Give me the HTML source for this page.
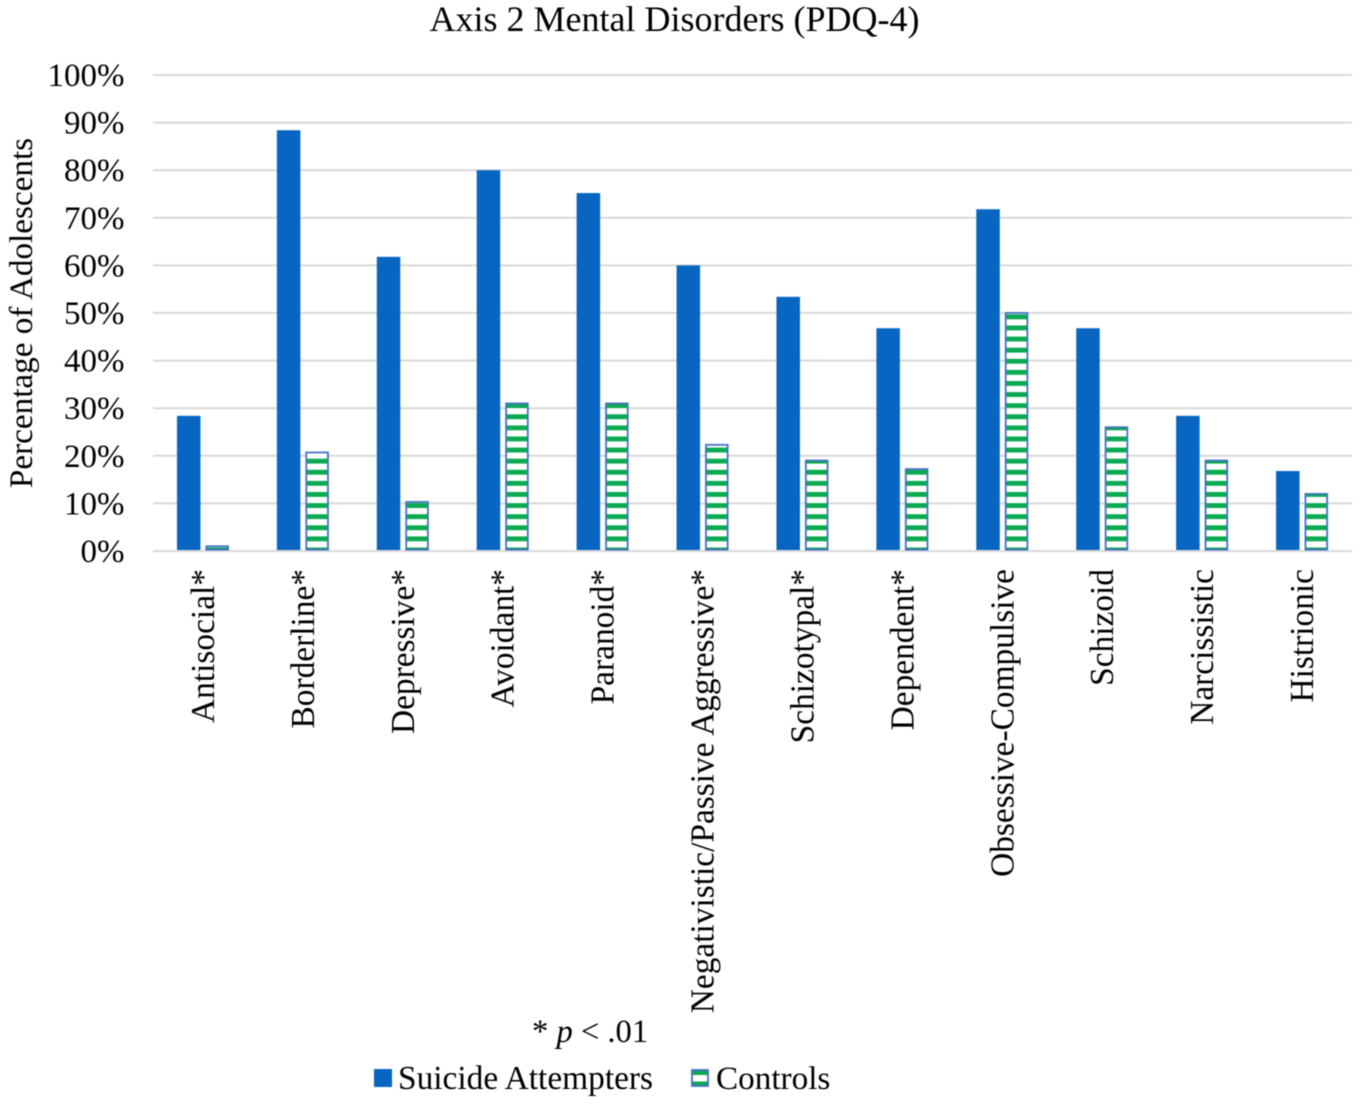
<!DOCTYPE html>
<html lang="en">
<head>
<meta charset="utf-8">
<title>Axis 2 Mental Disorders (PDQ-4)</title>
<style>
html,body{margin:0;padding:0;background:#fff;width:1360px;height:1104px;overflow:hidden}
#chart{display:block;filter:blur(0.4px)}
text{font-family:"Liberation Serif",serif;fill:#000}
</style>
</head>
<body>
<svg id="chart" xmlns="http://www.w3.org/2000/svg" width="1360" height="1104" viewBox="0 0 1360 1104">
  <defs>
    <pattern id="stripe" patternUnits="userSpaceOnUse" width="10" height="11.1" patternTransform="translate(0,3.6)">
      <rect x="0" y="0" width="10" height="11.1" fill="#ffffff"/>
      <rect x="0" y="0" width="10" height="4.9" fill="#0aaa50"/>
    </pattern>
    <pattern id="stripe-legend" patternUnits="userSpaceOnUse" width="10" height="11" patternTransform="translate(0,1070.5)">
      <rect x="0" y="0" width="10" height="11" fill="#ffffff"/>
      <rect x="0" y="0" width="10" height="4.5" fill="#0aaa50"/>
    </pattern>
  </defs>
  <text x="674.5" y="31" text-anchor="middle" font-size="36">Axis 2 Mental Disorders (PDQ-4)</text>
  <text transform="translate(32,313) rotate(-90)" text-anchor="middle" font-size="33.2">Percentage of Adolescents</text>
  <g id="grid"></g>
  <g id="yticks"></g>
  <g id="bars"></g>
  <g id="xticks"></g>
  <text x="532" y="1042" font-size="32.6">* <tspan font-style="italic">p</tspan> &lt; .01</text>
  <g>
    <g>
      <rect x="374" y="1069" width="18" height="18" fill="#0866c2"/>
      <text x="398" y="1089" font-size="33.4">Suicide Attempters</text>
    </g>
    <g>
      <rect x="692" y="1070" width="16" height="16" fill="url(#stripe-legend)" stroke="#4472c4" stroke-width="1.8"/>
      <text x="716" y="1089" font-size="33.2">Controls</text>
    </g>
  </g>
</svg>
<script>
const categories = ["Antisocial*","Borderline*","Depressive*","Avoidant*","Paranoid*","Negativistic/Passive Aggressive*","Schizotypal*","Dependent*","Obsessive-Compulsive","Schizoid","Narcissistic","Histrionic"];
const attempters = [28.4,88.4,61.8,80,75.2,60,53.4,46.8,71.8,46.8,28.4,16.8];
const controls = [1,20.7,10.3,31,31,22.3,19,17.2,50,26,19,12];
const yTickValues = [0,10,20,30,40,50,60,70,80,90,100];

const NS = "http://www.w3.org/2000/svg";
const plotLeft = 153, plotRight = 1352, plotBottom = 551, plotTop = 75;
const yMin = 0, yMax = 100;
function yScale(v){ return plotBottom - (v - yMin) / (yMax - yMin) * (plotBottom - plotTop); }
function bandStart(i){ return plotLeft + (plotRight - plotLeft) / categories.length * i; }
function bandCenter(i){ return bandStart(i) + (plotRight - plotLeft) / categories.length / 2; }
const barW = 23.5, gap = 5;

const grid = document.getElementById("grid");
const yticks = document.getElementById("yticks");
const bars = document.getElementById("bars");
const xticks = document.getElementById("xticks");

yTickValues.forEach(function(t){
  const line = document.createElementNS(NS, "line");
  line.setAttribute("x1", plotLeft);
  line.setAttribute("x2", plotRight);
  line.setAttribute("y1", yScale(t));
  line.setAttribute("y2", yScale(t));
  line.setAttribute("stroke", "#d9d9d9");
  line.setAttribute("stroke-width", "2");
  
  
  grid.appendChild(line);

  const label = document.createElementNS(NS, "text");
  label.setAttribute("x", 124.5);
  label.setAttribute("y", yScale(t) + 11);
  label.setAttribute("text-anchor", "end");
  label.setAttribute("font-size", "33");
  label.textContent = t + "%";
  
  
  yticks.appendChild(label);
});

categories.forEach(function(name, i){
  const c = bandCenter(i);
  const top1 = yScale(attempters[i]);
  const bar1 = document.createElementNS(NS, "rect");
  bar1.setAttribute("x", c - gap / 2 - barW);
  bar1.setAttribute("y", top1);
  bar1.setAttribute("width", barW);
  bar1.setAttribute("height", yScale(0) - top1 - 1);
  bar1.setAttribute("fill", "#0866c2");
  
  
  bars.appendChild(bar1);

  const top2 = yScale(controls[i]);
  const bar2 = document.createElementNS(NS, "rect");
  bar2.setAttribute("x", c + gap / 2 + 0.9);
  bar2.setAttribute("y", top2);
  bar2.setAttribute("width", barW - 1.8);
  bar2.setAttribute("height", Math.max(yScale(0) - top2 - 1.4, 0.5));
  bar2.setAttribute("fill", "url(#stripe)");
  bar2.setAttribute("stroke", "#4472c4");
  bar2.setAttribute("stroke-width", "1.8");
  
  
  bars.appendChild(bar2);

  const label = document.createElementNS(NS, "text");
  label.setAttribute("transform", "translate(" + (bandCenter(i) + 11) + ",569) rotate(-90)");
  label.setAttribute("text-anchor", "end");
  label.setAttribute("font-size", "33.4");
  label.textContent = name;
  
  
  xticks.appendChild(label);
});
</script>
</body>
</html>
